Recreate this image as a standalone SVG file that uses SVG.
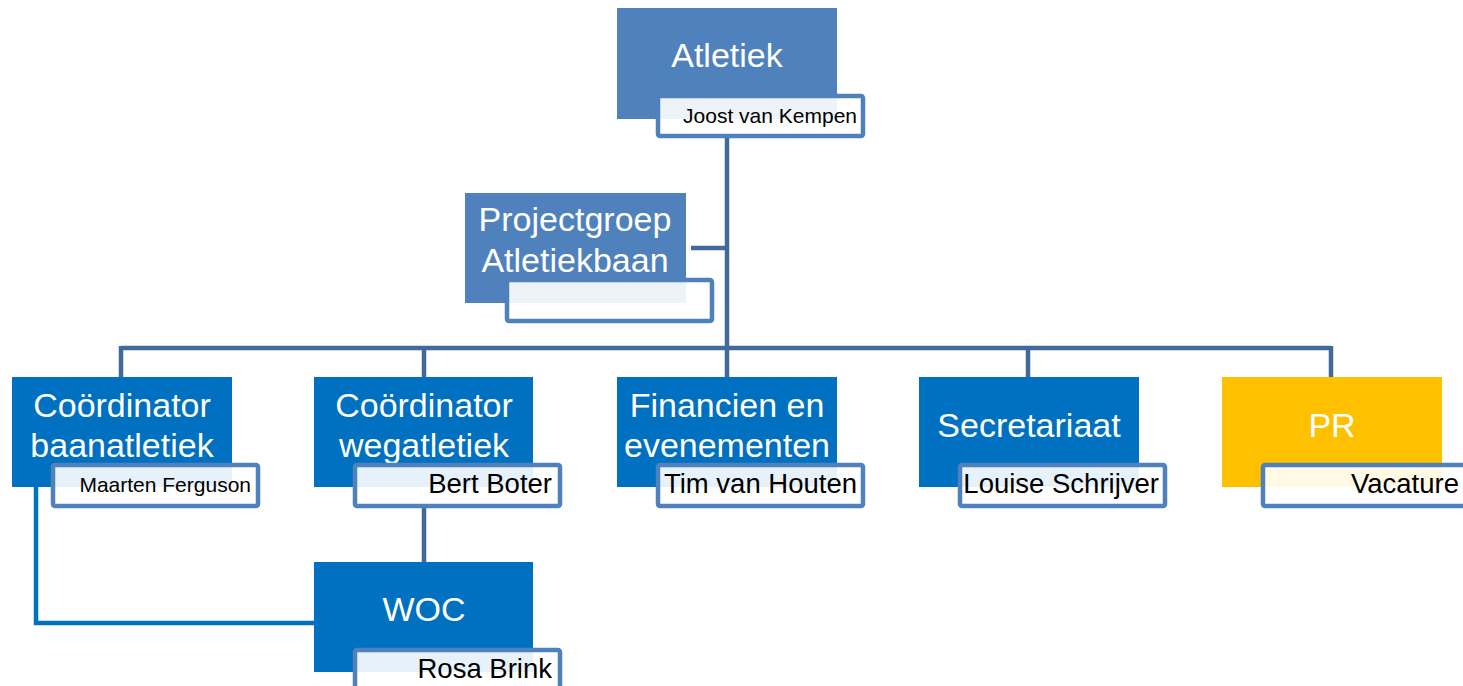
<svg xmlns="http://www.w3.org/2000/svg" width="1463" height="686" viewBox="0 0 1463 686">
<style>
.t{font-family:"Liberation Sans",Arial,sans-serif;fill:#fff;font-size:34px;text-anchor:middle}
.n{font-family:"Liberation Sans",Arial,sans-serif;fill:#000;text-anchor:end}
.s{font-size:21px}.l{font-size:27.5px}
.nb{fill:#fff;fill-opacity:0.9;stroke:#4f81bd;stroke-width:4.5}
.c{fill:none;stroke:#41699a;stroke-width:4.5}
.c2{fill:none;stroke:#0070c0;stroke-width:4.5}
</style>
<rect width="1463" height="686" fill="#fff"/>
<g id="connectors">
<path class="c" d="M727 137V350M691 248H727M121 348H1331M121 346V377M424 346V377M727 346V377M1028 346V377M1331 346V377M424 507V562"/>
<path class="c2" d="M36 487V623H314"/>
</g>
<g id="atletiek">
<rect x="617" y="8" width="220" height="111" fill="#4f81bd"/>
<text class="t" x="727" y="67">Atletiek</text>
<rect class="nb" x="658" y="96" width="205" height="40" rx="2"/>
<text class="n s" x="857" y="123">Joost van Kempen</text>
</g>
<g id="projectgroep">
<rect x="465" y="193" width="221" height="110" fill="#4f81bd"/>
<text class="t" x="575" y="231">Projectgroep</text>
<text class="t" x="575" y="272">Atletiekbaan</text>
<rect class="nb" x="507" y="280" width="205" height="41" rx="2"/>
</g>
<g id="baan">
<rect x="12" y="377" width="220" height="110" fill="#0070c0"/>
<text class="t" x="122" y="417">Coördinator</text>
<text class="t" x="122" y="457">baanatletiek</text>
<rect class="nb" x="53" y="465" width="205" height="41" rx="2"/>
<text class="n s" x="251" y="492">Maarten Ferguson</text>
</g>
<g id="weg">
<rect x="314" y="377" width="219" height="110" fill="#0070c0"/>
<text class="t" x="424" y="417">Coördinator</text>
<text class="t" x="424" y="457">wegatletiek</text>
<rect class="nb" x="355" y="465" width="205" height="41" rx="2"/>
<text class="n l" x="552" y="493">Bert Boter</text>
</g>
<g id="financien">
<rect x="617" y="377" width="220" height="110" fill="#0070c0"/>
<text class="t" x="727" y="417">Financien en</text>
<text class="t" x="727" y="457">evenementen</text>
<rect class="nb" x="658" y="465" width="205" height="41" rx="2"/>
<text class="n l" x="857" y="493">Tim van Houten</text>
</g>
<g id="secretariaat">
<rect x="919" y="377" width="220" height="110" fill="#0070c0"/>
<text class="t" x="1029" y="437">Secretariaat</text>
<rect class="nb" x="960" y="465" width="205" height="41" rx="2"/>
<text class="n l" x="1159" y="493">Louise Schrijver</text>
</g>
<g id="pr">
<rect x="1222" y="377" width="220" height="110" fill="#ffc000"/>
<text class="t" x="1332" y="437">PR</text>
<rect class="nb" x="1263" y="465" width="205" height="41" rx="2"/>
<text class="n l" x="1459" y="493">Vacature</text>
</g>
<g id="woc">
<rect x="314" y="562" width="219" height="110" fill="#0070c0"/>
<text class="t" x="424" y="621">WOC</text>
<rect class="nb" x="355" y="650" width="205" height="41" rx="2"/>
<text class="n l" x="552" y="678">Rosa Brink</text>
</g>
</svg>
